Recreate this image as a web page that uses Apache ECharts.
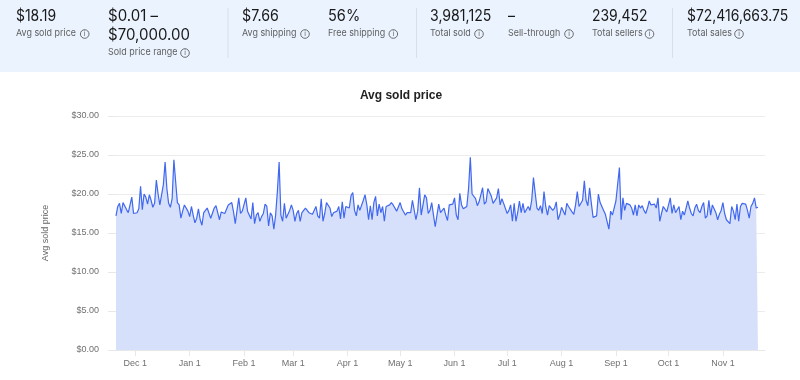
<!DOCTYPE html>
<html>
<head>
<meta charset="utf-8">
<style>html,body{margin:0;padding:0;background:#fff}#c{width:800px;height:380px}</style>
<script src="https://cdn.jsdelivr.net/npm/echarts@6/dist/echarts.min.js"></script>
</head>
<body>
<div id="c"></div>
<script>
const statValues = ["$18.19", "$0.01 –\n$70,000.00", "$7.66", "56%", "3,981,125", "–", "239,452", "$72,416,663.75"];
const statLabels = ["Avg sold price", "Sold price range", "Avg shipping", "Free shipping", "Total sold", "Sell-through", "Total sellers", "Total sales"];
const monthTicks = ["Dec 1", "Jan 1", "Feb 1", "Mar 1", "Apr 1", "May 1", "Jun 1", "Jul 1", "Aug 1", "Sep 1", "Oct 1", "Nov 1"];
const chartTitle = "Avg sold price";
const avgSoldPrice = [
17.2,18.4,18.8,17.5,18.9,18.9,18,17.6,18.6,19.6,17.5,17.3,17.6,18.1,21,18,20,19.6,18.7,19.9,
19.2,18.3,18.8,21.8,20,18.6,18.8,21.2,24.1,20.7,18.8,18.3,19.4,24.4,21.6,18.9,18.6,16.9,17.8,18.6,
18.4,17.8,17.1,18.4,17.3,16.3,16.9,18.1,16.7,16,17.6,17.7,18.2,18.1,16.9,16.7,18.2,18.5,18.5,16.7,
17.7,17.6,17.5,17.4,18.6,18.7,18.9,17.7,16.2,17.9,19.5,17.5,17.8,17.6,19.5,17.8,17.9,16.8,18.9,16.2,
17.3,17.6,16.5,17.1,17.5,18.7,18.4,15.9,17.6,17.2,15.5,17.3,20.3,24.1,17.3,16.5,18.8,16.9,17.1,17.9,
18.6,17.9,16.5,17.5,17.9,16.5,17.6,17.8,18.2,17.9,17.6,17.8,17.4,17.5,18.4,17.2,16.9,19.4,16.5,17.5,
18.9,18.7,18.2,17.1,17.6,17.6,17.8,18.4,16.8,19,16.9,18.4,18.4,18.2,19.8,20.2,17.9,17.2,18.6,17.9,
17.9,19.2,19.9,18.6,16.7,18.5,16.7,18.9,19.7,17.2,18.7,17.6,18.4,16.5,18.4,18.2,18.6,18.9,18.6,18.5,
17.8,17.7,18.9,18.1,17.9,17.3,17.6,17.8,17.6,19.2,19.4,16.7,17.8,20.8,17.3,17.5,19.9,19.5,17.5,17.9,
18.9,17.3,15.8,17.3,18.7,17.6,17.7,18.2,17.3,16.6,18.6,18.5,18.7,19.5,17.3,16.7,20.1,18.6,18.1,18.1,
18.4,20.7,24.7,20,19.9,19.4,18.5,19,19.1,20.8,18.7,19,20.7,20.7,19.7,18.8,18.9,19.5,20.7,18.6,
19.4,18.8,18.9,17.5,17.9,18.6,16.5,18.8,16.5,17.6,19.1,17.6,18.8,17.6,17.8,18.4,17.9,19.2,22.1,20.1,
18.2,17.9,18.5,17.5,20.3,18.4,17.3,18.5,18.4,17.9,18.2,19,16.7,17.3,18.3,18.5,17.3,18.8,18.4,18.6,
17.7,17.4,18.6,20.3,18.4,18.6,19.2,21.7,19.2,18.5,20.8,18.8,17,17,17.2,20,18.9,18.9,17.9,17.4,
17.6,15.5,17.8,17.3,17.5,19.1,19.1,23.4,16.7,19.5,17.9,18.8,19,18.6,18.2,17.3,18.6,17.2,18.6,18.2,
18.5,17.9,17.5,18.2,19.1,18.6,18.6,18.7,18.2,19.5,16.5,17.5,18.4,18.2,17.7,17.7,19.5,17.5,18.6,17.6,
17.8,18.4,16.7,17.8,17.3,18.2,19.1,18.2,17.5,17.2,18.2,18.7,17.9,17.6,18.4,18.9,16.9,17.2,19.2,17.3,
18.6,18.4,17.6,16.7,17.4,17.9,18.9,17.5,16.7,16.5,16.2,18.4,17.8,16.7,18.7,16.5,18.4,18.8,18.9,18.7,
17.9,16.9,18.4,18.8,19.5,18.2,18.3
];
const fmt = d => ["Jan","Feb","Mar","Apr","May","Jun","Jul","Aug","Sep","Oct","Nov","Dec"][d.getUTCMonth()] + " " + d.getUTCDate();
const days = [];
for (let i = 0; i < avgSoldPrice.length + 4; i++) {
  days.push(fmt(new Date(Date.UTC(2022, 10, 20 + i))));
}
const isTick = (i, v) => monthTicks.includes(v);

const ui = '"Inter","Noto Sans",sans-serif';
const axisFont = '"Liberation Sans",Arial,sans-serif';
const statX = [16, 108, 242, 328, 430, 508, 592, 687];
const iconX = [84.7, 185, 305, 393.3, 479, 569, 649.5, 739];
const valueScale = [0.9, 0.97, 0.92, 0.94, 0.91, 0.9, 0.9, 0.9];
const g = [
  {type:'rect', silent:true, shape:{x:0,y:0,width:800,height:72}, style:{fill:'#ebf3fe'}}
];
[227.5, 416, 672].forEach(x => g.push({type:'rect', silent:true, shape:{x:x,y:8,width:1,height:50}, style:{fill:'#d8dfe8'}}));
statValues.forEach((v, i) => {
  const two = v.includes("\n");
  g.push({type:'text', silent:true, x:statX[i], y:7, scaleX:valueScale[i], style:{text:v, x:0, y:0, fill:'#191919', font:'400 15.5px '+ui, lineHeight:18.6, textVerticalAlign:'top'}});
  const ly = two ? 52.5 : 33.5;
  g.push({type:'text', silent:true, x:statX[i], y:ly, scaleX:0.94, style:{text:statLabels[i], x:0, y:0, fill:'#5f5f5f', font:'400 9.5px '+ui, textVerticalAlign:'middle'}});
  g.push({type:'circle', silent:true, shape:{cx:iconX[i], cy:ly+0.5, r:4.3}, style:{fill:'none', stroke:'#5f5f5f', lineWidth:0.9}});
  g.push({type:'text', silent:true, style:{text:'i', x:iconX[i], y:ly+0.8, fill:'#5f5f5f', font:'400 7px '+ui, textAlign:'center', textVerticalAlign:'middle'}});
});

const chart = echarts.init(document.getElementById('c'), null, {renderer:'canvas'});
chart.setOption({
  animation:false,
  backgroundColor:'#fff',
  title:{text:chartTitle, left:401, top:90, padding:0, textAlign:'center', textStyle:{fontFamily:axisFont, fontSize:12, fontWeight:'bold', color:'#222'}},
  grid:{left:116, right:35, top:116, bottom:30},
  xAxis:{
    type:'category', boundaryGap:false, data:days,
    axisLine:{show:true, lineStyle:{color:'#e8e8e8'}},
    axisTick:{show:true, interval:isTick, length:6, lineStyle:{color:'#e8e8e8'}},
    axisLabel:{interval:isTick, margin:9, fontSize:9, color:'#707070', fontFamily:axisFont},
    splitLine:{show:false}
  },
  yAxis:{
    type:'value', min:0, max:30, interval:5,
    name:'Avg sold price', nameLocation:'middle', nameGap:66, nameRotate:90,
    nameTextStyle:{fontSize:9, color:'#666', fontFamily:axisFont},
    axisLine:{show:false},
    axisTick:{show:true, length:8, lineStyle:{color:'#e8e8e8'}},
    axisLabel:{margin:17, padding:[4,0,0,0], fontSize:9, color:'#707070', fontFamily:axisFont, formatter:v => '$'+v.toFixed(2)},
    splitLine:{show:true, lineStyle:{color:'#ececec', width:1}}
  },
  series:[{
    type:'line', data:avgSoldPrice, showSymbol:false, smooth:false,
    lineStyle:{color:'#4168ee', width:1.2},
    areaStyle:{color:'#d6e0fb', opacity:1}
  }],
  graphic:g
});
</script>
</body>
</html>
